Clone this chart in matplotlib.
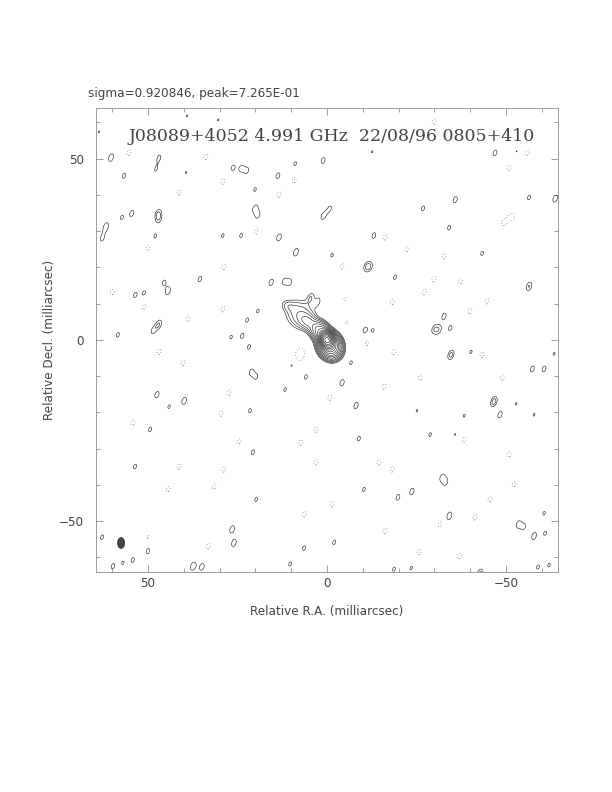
import numpy as np
import matplotlib
matplotlib.use("Agg")
import matplotlib.pyplot as plt
from matplotlib.patches import Ellipse
from matplotlib.ticker import MultipleLocator

# map header
sigma_text = "sigma=0.920846, peak=7.265E-01"
title_text = "J08089+4052 4.991 GHz  22/08/96 0805+410"
peak = 0.7265
base = 0.003  # lowest contour (Jy/beam)

# source components: x (mas, RA), y (mas, Dec), flux (Jy), fwhm maj, fwhm min, pa (deg)
src_x = [0.0, -0.8, 2.0, 5.3, 7.5, 11.0]
src_y = [0.0, -1.5, 2.5, 5.0, 7.0, 9.5]
src_flux = [0.60, 0.10, 0.03, 0.009, 0.008, 0.003]
src_maj = [2.6, 4.5, 3.8, 4.0, 7.0, 3.5]
src_min = [2.0, 3.8, 3.4, 3.0, 6.2, 2.5]
src_pa = [25, 25, 45, 60, 45, 70]

# positive noise peaks (x, y in mas; amplitude in units of lowest contour)
pos_x = [60.3, 56.7, 46.9, 26.3, 24.0, 22.3, 13.7, 8.9, 1.1, 20.1, 54.5, 57.3, 61.7, 62.8,
         47.2, 48.0, 20.1, 19.3, 1.1, 29.1, 24.0, 13.4, 8.7, 35.5, 45.5, 44.4, 51.1, 53.6,
         15.6, 12.0, 10.3, 4.5, 2.5, 46.9, 48.6, 58.4, 22.3, 23.7, 26.8, 19.3,
         47.8, 39.4, 46.9, 63.7, 39.1, 30.4,
         -46.9, -35.8, -26.8, -56.4, -63.7, -0.8, -34.1, -13.1, -43.3, -1.4, -10.9, -12.0,
         -19.0, -56.4, -32.7, -29.9, -31.3, -34.4, -10.6, -12.8, -52.5, -12.6, -53.0,
         21.8, 21.2, 19.8, 9.8, 5.9, 11.7, 47.5, 39.9, 44.1, 21.5, 49.4, 20.7, 53.6, 19.8,
         49.7, 26.5, 26.0, 50.0, 62.8, 6.4, 59.8, 57.0, 54.2, 37.4, 34.9, 10.3,
         -34.6, -40.2, -63.4, -6.7, -57.3, -60.6, -4.2, -8.1, -46.6, -48.3, -52.8, -57.8,
         -38.3, -25.1, -28.8, -35.8, -8.9, -32.1, -33.2, -10.3, -19.8, -23.7, -34.1, -53.4,
         -55.0, -57.8, -60.9, -60.6, -2.0, -18.7, -23.5, -42.7, -58.9, -62.0]
pos_y = [50.3, 45.3, 50.3, 47.5, 47.3, 46.7, 45.3, 48.6, 49.5, 41.5, 34.9, 33.8, 31.3, 28.0,
         34.9, 28.6, 36.3, 34.3, 34.1, 28.8, 28.8, 28.3, 24.2, 16.8, 15.9, 13.5, 12.9, 12.4,
         15.9, 16.2, 15.9, 11.8, 10.7, 4.4, 2.5, 1.4, 5.5, 1.1, 0.8, 8.0,
         47.0, 46.2, 33.2, 57.4, 61.8, 60.7,
         51.6, 38.7, 36.3, 39.3, 39.0, 36.3, 31.0, 28.8, 23.9, 23.4, 20.3, 20.1,
         17.3, 14.8, 6.6, 3.0, 2.7, 3.3, 2.7, 2.5, 4.9, 51.9, 52.0,
         -1.9, -8.8, -10.2, -6.9, -10.2, -13.7, -15.1, -16.8, -18.4, -19.5, -24.7, -31.0,
         -34.9, -44.0, -51.1, -52.2, -56.0, -58.2, -54.4, -57.4, -62.4, -61.5, -60.7,
         -62.4, -62.6, -61.8,
         -4.1, -3.3, -3.8, -6.3, -8.0, -8.0, -11.8, -18.1, -17.0, -20.6, -17.6, -20.6,
         -20.9, -19.5, -26.1, -26.1, -27.2, -37.9, -39.3, -41.2, -43.4, -41.8, -48.6, -50.8,
         -51.6, -54.1, -53.3, -47.8, -55.8, -63.2, -62.9, -64.5, -62.6, -62.1]
pos_amp = [1.35, 1.15, 1.12, 1.15, 1.12, 1.1, 1.2, 1.1, 1.2, 1.08, 1.2, 1.1, 1.35, 1.15,
           1.25, 1.15, 1.25, 1.12, 1.2, 1.08, 1.1, 1.3, 1.35, 1.18, 1.1, 1.3, 1.12, 1.12,
           1.25, 1.1, 1.08, 1.18, 1.08, 1.35, 1.1, 1.12, 1.1, 1.15, 1.08, 1.08,
           1.03, 1.03, 1.03, 1.03, 1.03, 1.03,
           1.2, 1.22, 1.15, 1.12, 1.3, 1.08, 1.12, 1.2, 1.1, 1.08, 1.1, 1.12,
           1.12, 1.45, 1.2, 1.22, 1.1, 1.15, 1.2, 1.1, 1.2, 1.03, 1.03,
           1.12, 1.15, 1.1, 1.1, 1.12, 1.08, 1.25, 1.3, 1.08, 1.1, 1.12, 1.15, 1.12, 1.1,
           1.1, 1.3, 1.3, 1.2, 1.12, 1.12, 1.15, 1.05, 1.12, 1.4, 1.25, 1.1,
           1.6, 1.08, 1.05, 1.08, 1.2, 1.2, 1.25, 1.25, 1.7, 1.25, 1.04, 1.05,
           1.05, 1.04, 1.08, 1.04, 1.12, 1.18, 1.1, 1.1, 1.2, 1.25, 1.45, 1.2,
           1.08, 1.3, 1.1, 1.08, 1.12, 1.1, 1.08, 1.6, 1.1, 1.08]

# negative noise troughs (dotted contours)
neg_x = [29.1, 9.2, 13.4, 19.8, 28.8, 60.0, 29.1, 38.8, 50.0, 55.3, 33.8, 41.3, 51.1,
         -29.9, -50.8, -51.7, -49.4, -16.2, -22.3, -32.7, -4.2, -29.9, -37.2, -44.7,
         -18.2, -39.9, -53.9, -27.1, -55.9,
         46.9, 40.2, 7.3, 27.4, 29.6, 54.2, 24.6, 3.1, 7.3, 28.8, 41.3, 44.4, 31.6, 50.0,
         33.2, 6.4, 3.1,
         -18.7, -43.3, -26.0, -48.9, -0.8, -15.9, -38.3, -50.8, -14.5, -18.2, -52.2, -1.4,
         -45.5, -41.3, -31.6, -16.2, -25.7, -36.9, -11.2, -5.0, -5.5, 8.0]
neg_y = [43.7, 44.0, 40.1, 29.9, 20.1, 13.2, 8.5, 5.8, 25.5, 51.6, 50.5, 40.7, 9.1,
         60.2, 47.5, 34.1, 32.4, 28.3, 25.0, 23.1, 20.3, 16.8, 16.2, 10.7,
         10.4, 8.0, 6.6, 13.2, 51.6,
         -3.3, -6.3, -4.1, -14.6, -20.3, -22.8, -28.0, -24.7, -28.3, -35.7, -34.9, -41.2,
         -40.4, -54.1, -56.9, -48.1, -33.8,
         -3.3, -4.1, -10.4, -10.4, -15.9, -12.9, -27.5, -31.6, -33.8, -35.7, -39.8, -45.3,
         -44.0, -48.9, -50.8, -52.7, -58.5, -59.6, -0.8, 11.3, 4.7, -4.0]
neg_amp = [1.15] * 65 + [1.05, 1.05, 1.05]

# restoring beam
beam_x, beam_y = 57.5, -56.0
beam_maj, beam_min, beam_pa = 3.0, 2.0, 0.0


def gauss(X, Y, x0, y0, amp, fmaj, fmin, pa):
    t = np.radians(pa)
    dx, dy = X - x0, Y - y0
    a = dx * np.sin(t) + dy * np.cos(t)
    b = dx * np.cos(t) - dy * np.sin(t)
    return amp * np.exp(-4 * np.log(2) * (a ** 2 / fmaj ** 2 + b ** 2 / fmin ** 2))


g = np.arange(-66, 66.01, 0.2)
X, Y = np.meshgrid(g, g)
Z = np.zeros_like(X)
for i in range(len(src_x)):
    Z += gauss(X, Y, src_x[i], src_y[i], src_flux[i], src_maj[i], src_min[i], src_pa[i])
for x0, y0, a in zip(pos_x, pos_y, pos_amp):
    Z += gauss(X, Y, x0, y0, a * base, 3.3, 1.9, -20)
for x0, y0, a in zip(neg_x, neg_y, neg_amp):
    Z += gauss(X, Y, x0, y0, -a * base, 3.5, 2.3, -20)

pos_levels = base * 2 ** (np.arange(16) / 2)

fig = plt.figure(figsize=(8.5, 11), dpi=72)
ax = fig.add_axes([0.1569, 0.2778, 0.7549, 0.5859])
ax.contour(X, Y, Z, levels=pos_levels, colors="#222222", linewidths=0.6)
ax.contour(X, Y, Z, levels=[-base], colors="#777777", linewidths=0.8,
           linestyles=[(0, (1, 2.5))])
ax.add_patch(Ellipse((beam_x, beam_y), beam_min, beam_maj, angle=beam_pa,
                     facecolor="#444444", edgecolor="#222222", lw=0.6))

ax.set_xlim(64.5, -64.5)
ax.set_ylim(-64, 64)
ax.xaxis.set_major_locator(MultipleLocator(50))
ax.yaxis.set_major_locator(MultipleLocator(50))
ax.xaxis.set_minor_locator(MultipleLocator(10))
ax.yaxis.set_minor_locator(MultipleLocator(10))
ax.tick_params(which="both", direction="in", top=True, right=True, color="#888888",
               labelcolor="#444444", labelsize=12, width=0.8)
ax.tick_params(which="major", length=7)
ax.tick_params(which="minor", length=4)
ax.tick_params(axis="y", pad=12)
ax.tick_params(axis="x", pad=5)
for s in ax.spines.values():
    s.set_color("#888888")
    s.set_linewidth(0.8)

ax.set_xlabel("Relative R.A. (milliarcsec)", fontsize=12, color="#444444", labelpad=15)
ax.set_ylabel("Relative Decl. (milliarcsec)", fontsize=12, color="#444444", labelpad=3)
ax.text(0.07, 0.9375, title_text, transform=ax.transAxes, fontsize=17.4,
        family="DejaVu Serif", color="#444444", va="center", ha="left")
fig.text(88 / 612, 1 - 97 / 792, sigma_text, fontsize=12, color="#444444", va="baseline")

fig.savefig("out.png", dpi=72)
